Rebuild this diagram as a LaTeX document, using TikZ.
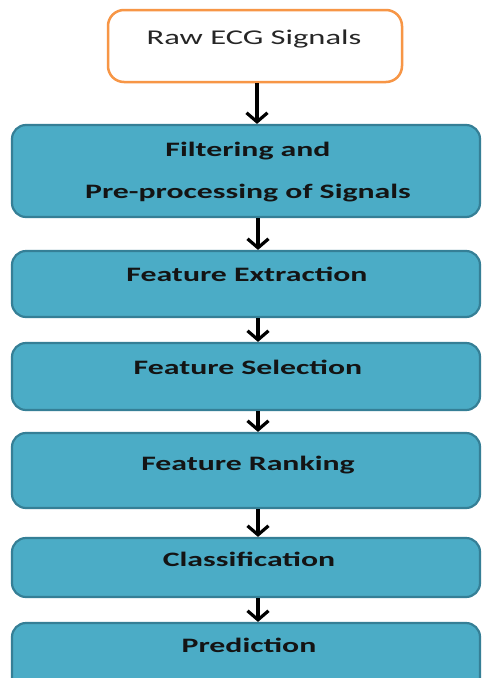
\documentclass[tikz,border=0pt]{standalone}
\usepackage{fontspec}
\setmainfont{Carlito}[FakeStretch=1.55]
\usetikzlibrary{arrows.meta}
\definecolor{stagefill}{HTML}{4BACC6}
\definecolor{stageedge}{HTML}{357F96}
\definecolor{startedge}{HTML}{F79646}
\tikzset{
  stagebox/.style={draw=stageedge, fill=stagefill, line width=2.2pt,
    rounded corners=14pt, inner sep=0pt},
  startbox/.style={draw=startedge, fill=white, line width=2.5pt,
    rounded corners=16pt, inner sep=0pt},
  stagetext/.style={anchor=base, inner sep=0pt, text=black!92,
    font=\fontsize{20.5}{24}\selectfont\bfseries},
  starttext/.style={anchor=base, inner sep=0pt, text=black!85,
    font=\fontsize{21}{25}\selectfont},
  flow/.style={line width=3.6pt, -{Straight Barb[length=9pt, width=21pt, line width=3.2pt]}}
}
\begin{document}
\begin{tikzpicture}[x=1pt, y=-1pt]
  \useasboundingbox (0,0) rectangle (483,678);
  \clip (0,0) rectangle (483,678);
  \fill[white] (0,0) rectangle (483,678);

  % start box
  \node[startbox, minimum width=294pt, minimum height=72pt] (raw) at (255,46) {};
  \node[starttext] (rawt) at (254,44) {Raw ECG Signals};

  % processing stages
  \node[stagebox, minimum width=468pt, minimum height=92pt] (filt) at (246,171) {};
  \node[stagetext] (filta) at (248,156) {Filtering and};
  \node[stagetext] (filtb) at (248,198) {Pre-processing of Signals};

  \node[stagebox, minimum width=468pt, minimum height=66pt] (extr) at (246,284) {};
  \node[stagetext] (extrt) at (247,281) {Feature Extraction};

  \node[stagebox, minimum width=468pt, minimum height=67pt] (sele) at (246,376.5) {};
  \node[stagetext] (selet) at (248,374) {Feature Selection};

  \node[stagebox, minimum width=468pt, minimum height=75pt] (rank) at (246,470.5) {};
  \node[stagetext] (rankt) at (248,470) {Feature Ranking};

  \node[stagebox, minimum width=468pt, minimum height=59pt] (clas) at (246,567.5) {};
  \node[stagetext] (clast) at (249,566) {Classification};

  \node[stagebox, minimum width=468pt, minimum height=70pt] (pred) at (246,658) {};
  \node[stagetext] (predt) at (249,652) {Prediction};

  % connectors
  \draw[flow] (raw.south -| 257,0) -- (filt.north -| 257,0);
  \draw[flow] (filt.south -| 258,0) -- (extr.north -| 258,0);
  \draw[flow] (extr.south -| 258,0) -- (sele.north -| 258,0);
  \draw[flow] (sele.south -| 258,0) -- (rank.north -| 258,0);
  \draw[flow] (rank.south -| 258,0) -- (clas.north -| 258,0);
  \draw[flow] (clas.south -| 258,0) -- (pred.north -| 258,0);
\end{tikzpicture}
\end{document}
